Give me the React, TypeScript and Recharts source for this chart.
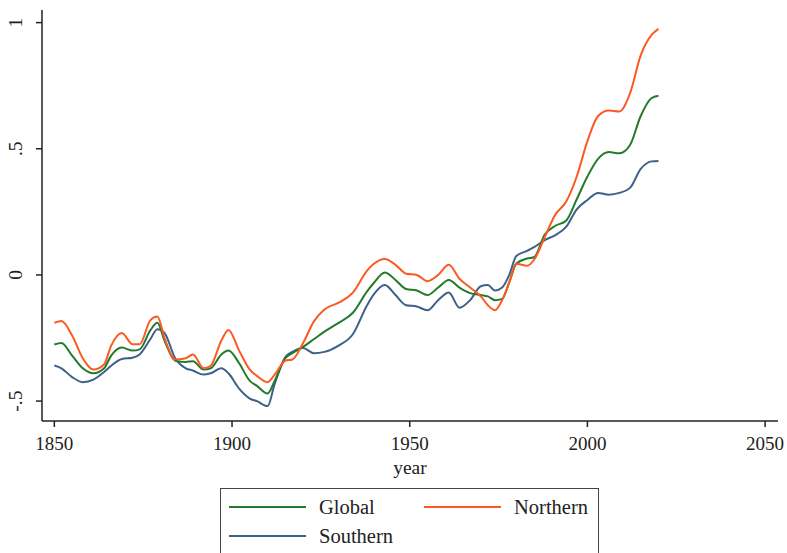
import { LineChart, Line, XAxis, YAxis, Label } from "recharts";

const years = [
  1850, 1852, 1855, 1858, 1861, 1864, 1866, 1869, 1872, 1874, 1877, 1879, 1881,
  1884, 1887, 1889, 1892, 1894, 1897, 1899, 1902, 1905, 1907, 1910, 1912, 1915,
  1917, 1920, 1923, 1926, 1930, 1934, 1938, 1940, 1943, 1946, 1949, 1952, 1955,
  1958, 1961, 1964, 1967, 1970, 1972, 1974, 1976, 1978, 1980, 1983, 1985, 1988,
  1991, 1994, 1997, 2000, 2003, 2006, 2009, 2012, 2015, 2018, 2020,
];

const globalTemp = [
  -0.276, -0.27, -0.32, -0.37, -0.39, -0.37, -0.32, -0.288, -0.3, -0.295, -0.22,
  -0.19, -0.26, -0.34, -0.345, -0.342, -0.375, -0.37, -0.315, -0.3, -0.35, -0.42,
  -0.44, -0.47, -0.42, -0.33, -0.31, -0.285, -0.255, -0.225, -0.19, -0.15, -0.065,
  -0.03, 0.01, -0.02, -0.056, -0.062, -0.08, -0.05, -0.02, -0.05, -0.072, -0.08,
  -0.085, -0.1, -0.095, -0.03, 0.045, 0.065, 0.07, 0.16, 0.195, 0.215, 0.3, 0.39,
  0.46, 0.487, 0.482, 0.515, 0.63, 0.7, 0.71,
];

const northernTemp = [
  -0.19, -0.183, -0.24, -0.33, -0.375, -0.355, -0.28, -0.23, -0.275, -0.275, -0.18,
  -0.165, -0.25, -0.335, -0.33, -0.315, -0.37, -0.36, -0.26, -0.218, -0.3, -0.375,
  -0.4, -0.425, -0.395, -0.34, -0.335, -0.27, -0.185, -0.137, -0.11, -0.07, 0.017,
  0.045, 0.063, 0.04, 0.005, 0.0, -0.025, 0.0, 0.04, -0.015, -0.05, -0.085, -0.12,
  -0.14, -0.1, -0.03, 0.044, 0.036, 0.06, 0.15, 0.24, 0.29, 0.39, 0.53, 0.63, 0.652,
  0.648, 0.72, 0.87, 0.95, 0.975,
];

const southernTemp = [
  -0.359, -0.37, -0.405, -0.425, -0.415, -0.385, -0.36, -0.333, -0.328, -0.315,
  -0.255, -0.215, -0.23, -0.33, -0.37, -0.379, -0.395, -0.39, -0.37, -0.39, -0.451,
  -0.49, -0.5, -0.52, -0.432, -0.326, -0.305, -0.29, -0.31, -0.305, -0.28, -0.235,
  -0.12, -0.075, -0.04, -0.08, -0.12, -0.125, -0.14, -0.1, -0.07, -0.13, -0.1,
  -0.045, -0.04, -0.062, -0.05, 0.0, 0.075, 0.095, 0.11, 0.138, 0.158, 0.19, 0.26,
  0.297, 0.325, 0.318, 0.325, 0.345, 0.42, 0.45, 0.452,
];

const xTicks = [1850, 1900, 1950, 2000, 2050];
const yTicks = [-0.5, 0, 0.5, 1];
const yTickLabels = ["-.5", "0", ".5", "1"];

const data = years.map((year, i) => ({
  year,
  global: globalTemp[i],
  northern: northernTemp[i],
  southern: southernTemp[i],
}));

const FONT = '"Liberation Serif", "Times New Roman", serif';
const GREEN = "#237a2b";
const ORANGE = "#fb5a22";
const BLUE = "#3d6189";

const YTick = (props: any) => {
  const { x, y, payload } = props;
  const idx = yTicks.indexOf(payload.value);
  return (
    <text
      x={x - 12}
      y={y}
      transform={`rotate(-90, ${x - 12}, ${y})`}
      textAnchor="middle"
      fontFamily={FONT}
      fontSize={19.5}
      fill="#222"
    >
      {yTickLabels[idx]}
    </text>
  );
};

const LegendRow = ({ color, label, left, top }: any) => (
  <div style={{ position: "absolute", left, top, display: "flex", alignItems: "center" }}>
    <div style={{ width: 77, height: 2, background: color }} />
    <span style={{ marginLeft: 13, fontFamily: FONT, fontSize: 20.5, color: "#222", lineHeight: "20px" }}>
      {label}
    </span>
  </div>
);

export default function App() {
  return (
    <div style={{ position: "absolute", left: 0, top: 0, width: 787, height: 553, background: "#fff", overflow: "hidden" }}>
      <LineChart
        width={787}
        height={553}
        data={data}
        margin={{ top: 10, right: 9, bottom: 72, left: 0 }}
      >
        <XAxis
          dataKey="year"
          type="number"
          domain={[1846.53, 2053.63]}
          ticks={xTicks}
          allowDataOverflow
          height={60}
          stroke="#222"
          strokeWidth={1.5}
          tickSize={6}
          tickMargin={10}
          tick={{ fontFamily: FONT, fontSize: 19, fill: "#222" }}
        >
          <Label
            value="year"
            position="insideBottom"
            offset={7}
            style={{ fontFamily: FONT, fontSize: 19.5, fill: "#222" }}
          />
        </XAxis>
        <XAxis
          xAxisId="top"
          orientation="top"
          dataKey="year"
          type="number"
          domain={[1846.53, 2053.63]}
          height={0}
          tick={false}
          tickLine={false}
          stroke="#777"
          strokeWidth={1.5}
        />
        <YAxis
          type="number"
          domain={[-0.579, 1.05]}
          ticks={yTicks}
          allowDataOverflow
          width={42}
          stroke="#222"
          strokeWidth={1.5}
          tickSize={6}
          tick={<YTick />}
        />
        <YAxis
          yAxisId="right"
          orientation="right"
          type="number"
          domain={[-0.579, 1.05]}
          width={0}
          tick={false}
          tickLine={false}
          stroke="#777"
          strokeWidth={1.5}
        />
        <Line type="monotone" dataKey="southern" stroke={BLUE} strokeWidth={2} dot={false} isAnimationActive={false} />
        <Line type="monotone" dataKey="global" stroke={GREEN} strokeWidth={2} dot={false} isAnimationActive={false} />
        <Line type="monotone" dataKey="northern" stroke={ORANGE} strokeWidth={2} dot={false} isAnimationActive={false} />
      </LineChart>
      <div
        style={{
          position: "absolute",
          left: 220,
          top: 488,
          width: 379,
          height: 80,
          border: "1px solid #444",
          boxSizing: "border-box",
        }}
      />
      <LegendRow color={GREEN} label="Global" left={229} top={497} />
      <LegendRow color={BLUE} label="Southern" left={229} top={526} />
      <LegendRow color={ORANGE} label="Northern" left={424} top={497} />
    </div>
  );
}
